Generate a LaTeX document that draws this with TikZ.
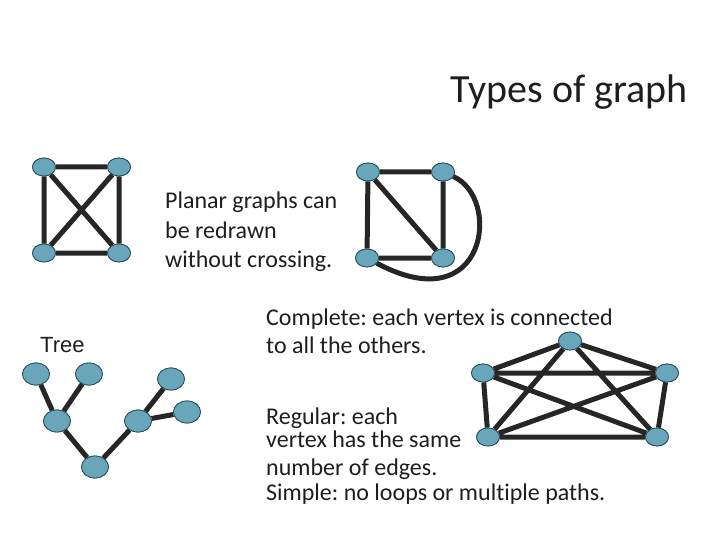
\documentclass[tikz,border=0pt]{standalone}
\usepackage{fontspec}
\setmainfont[Ligatures=NoCommon]{Carlito}
\newfontfamily\arialfont{Liberation Sans}
\usetikzlibrary{shapes.geometric}
\definecolor{vfill}{RGB}{105,166,186}
\definecolor{vline}{RGB}{40,80,95}
\definecolor{edgec}{RGB}{38,38,38}
\definecolor{txt}{RGB}{30,30,30}
\frenchspacing
\tikzset{
  vtx/.style={ellipse,draw=vline,line width=0.8pt,fill=vfill,minimum width=23pt,minimum height=18pt,inner sep=0pt},
  tvtx/.style={vtx,minimum width=27pt,minimum height=22pt},
  edge/.style={draw=edgec,line width=5pt},
  lbl/.style={text=txt,anchor=base west,inner sep=0pt,font=\fontsize{24}{28}\selectfont}
}
\begin{document}
\begin{tikzpicture}[x=1pt,y=-1pt]
\useasboundingbox (0,0) rectangle (720,540);
% title
\node[text=txt,anchor=base east,inner sep=0pt,font=\fontsize{40}{48}\selectfont] (title) at (688,103) {Types of graph};
% K4 crossing
\node[vtx] (a1) at (44,167) {};
\node[vtx] (a2) at (119,167) {};
\node[vtx] (a3) at (44,253) {};
\node[vtx] (a4) at (119,253) {};
% planar
\node[vtx] (p1) at (368,172) {};
\node[vtx] (p2) at (443,172) {};
\node[vtx] (p3) at (367,258) {};
\node[vtx] (p4) at (443,258) {};
% tree
\node[tvtx] (t1) at (36,374) {};
\node[tvtx] (t2) at (89,374) {};
\node[tvtx] (t3) at (57,421) {};
\node[tvtx] (t4) at (95,467) {};
\node[tvtx] (t5) at (138,421) {};
\node[tvtx] (t6) at (171,379) {};
\node[tvtx] (t7) at (187,412) {};
% K5
\node[vtx] (k1) at (570,341) {};
\node[vtx] (k2) at (483,373) {};
\node[vtx] (k3) at (667,373) {};
\node[vtx] (k4) at (488,437) {};
\node[vtx] (k5) at (657,437) {};
% edges
\draw[edge] (a1) -- (a2) (a3) -- (a4) (a1) -- (a3) (a2) -- (a4) (a1) -- (a4) (a2) -- (a3);
\draw[edge] (p1) -- (p2) (p3) -- (p4) (p1) -- (p3) (p2) -- (p4) (p1) -- (p4);
\draw[edge] (p2) .. controls (502,198) and (487,322) .. (p3);
\draw[edge] (t1) -- (t3) (t2) -- (t3) (t3) -- (t4) (t4) -- (t5) (t5) -- (t6) (t5) -- (t7);
\draw[edge] (k1) -- (k2) (k1) -- (k3) (k1) -- (k4) (k1) -- (k5) (k2) -- (k3) (k2) -- (k4) (k2) -- (k5) (k3) -- (k4) (k3) -- (k5) (k4) -- (k5);
% redraw vertices above the edges
\foreach \p in {{44,167},{119,167},{44,253},{119,253},{368,172},{443,172},{367,258},{443,258},{570,341},{483,373},{667,373},{488,437},{657,437}}
  \node[vtx] at (\p) {};
\foreach \p in {{36,374},{89,374},{57,421},{95,467},{138,421},{171,379},{187,412}}
  \node[tvtx] at (\p) {};
% texts
\node[lbl] (pl1) at (165,209) {Planar graphs can};
\node[lbl] (pl2) at (165,238) {be redrawn};
\node[lbl] (pl3) at (165,267) {without crossing.};
\node[text=txt,anchor=base west,inner sep=0pt,font=\arialfont\fontsize{22}{26}\selectfont] (tree) at (40,352) {Tree};
\node[lbl] (c1) at (266,325) {Complete: each vertex is connected};
\node[lbl] (c2) at (266,353) {to all the others.};
\node[lbl] (r1) at (266,424) {Regular: each};
\node[lbl] (r2) at (266,447) {vertex has the same};
\node[lbl] (r3) at (266,475) {number of edges.};
\node[lbl] (r4) at (266,500) {Simple: no loops or multiple paths.};
\end{tikzpicture}
\end{document}
